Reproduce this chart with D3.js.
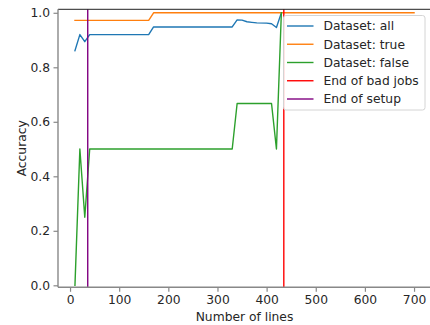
<!DOCTYPE html>
<html>
<head>
<meta charset="utf-8">
<script src="https://cdn.jsdelivr.net/npm/d3@7"></script>
<style>
  html, body { margin: 0; padding: 0; background: #fff; }
  svg { display: block; }
  text { font-family: "DejaVu Sans", sans-serif; fill: #262626; }
</style>
</head>
<body>
<svg id="chart" width="430" height="325"></svg>
<script>
// Accuracy per dataset as a function of the number of lines processed.
// Points are listed where the curve changes direction.
const allLines   = [10, 20, 30, 40, 160, 170, 330, 340, 350, 360, 370, 380, 400, 410, 420, 430];
const allAcc     = [0.861, 0.92, 0.894, 0.92, 0.92, 0.948, 0.948, 0.974, 0.973, 0.967, 0.965, 0.963, 0.962, 0.96, 0.946, 1.0];

const trueLines  = [10, 160, 170, 700];
const trueAcc    = [0.972, 0.972, 1.0, 1.0];

const falseLines = [10, 20, 30, 40, 330, 340, 410, 420, 430];
const falseAcc   = [0.0, 0.5, 0.25, 0.5, 0.5, 0.667, 0.667, 0.5, 1.0];

const endOfBadJobs = 435;
const endOfSetup   = 36;

const xTicks = [0, 100, 200, 300, 400, 500, 600, 700];
const yTicks = [0.0, 0.2, 0.4, 0.6, 0.8, 1.0];

const seriesNames  = ["Dataset: all", "Dataset: true", "Dataset: false"];
const markerNames  = ["End of bad jobs", "End of setup"];

const colors = {
  all: "#1f77b4", true: "#ff7f0e", false: "#2ca02c",
  bad: "#ff0000", setup: "#800080"
};

const svg = d3.select("#chart");
const plotLeft = 58, plotRight = 431, plotTop = 9.3, plotBottom = 287.3;

const x = d3.scaleLinear().domain([-24.5, 734.5]).range([plotLeft, plotRight]);
const y = d3.scaleLinear().domain([-0.0073, 1.0128]).range([plotBottom, plotTop]);

const fontSize = 12.3;

// Plot lines
const line = d3.line().x(d => x(d[0])).y(d => y(d[1]));
const plot = svg.append("g");

function drawSeries(xs, ys, color) {
  plot.append("path")
    .datum(xs.map((v, i) => [v, ys[i]]))
    .attr("d", line)
    .attr("fill", "none")
    .attr("stroke", color)
    .attr("stroke-width", 1.4)
    .attr("stroke-linejoin", "round")
    .attr("stroke-linecap", "square");
}
drawSeries(allLines, allAcc, colors.all);
drawSeries(trueLines, trueAcc, colors.true);
drawSeries(falseLines, falseAcc, colors.false);

function drawMarker(v, color) {
  plot.append("line")
    .attr("x1", x(v)).attr("x2", x(v))
    .attr("y1", plotTop).attr("y2", plotBottom)
    .attr("stroke", color)
    .attr("stroke-width", 1.4);
}
drawMarker(endOfBadJobs, colors.bad);
drawMarker(endOfSetup, colors.setup);

// Spines
svg.append("line").attr("x1", plotLeft).attr("x2", plotRight).attr("y1", plotTop).attr("y2", plotTop)
  .attr("stroke", "#222").attr("stroke-width", 1);
svg.append("line").attr("x1", plotLeft).attr("x2", plotLeft).attr("y1", plotTop).attr("y2", plotBottom)
  .attr("stroke", "#888").attr("stroke-width", 1.4);
svg.append("line").attr("x1", plotLeft).attr("x2", plotRight).attr("y1", plotBottom).attr("y2", plotBottom)
  .attr("stroke", "#888").attr("stroke-width", 1.4);

// Axes
const xAxis = d3.axisBottom(x).tickValues(xTicks).tickFormat(d3.format("d"))
  .tickSizeInner(4.5).tickSizeOuter(0).tickPadding(3);
const gx = svg.append("g").attr("transform", `translate(0,${plotBottom})`).call(xAxis);
gx.select(".domain").remove();
gx.selectAll(".tick line").attr("stroke", "#888").attr("stroke-width", 1.2);
gx.selectAll(".tick text").style("font-size", fontSize + "px").style("font-family", "DejaVu Sans").attr("fill", "#262626");

const yAxis = d3.axisLeft(y).tickValues(yTicks).tickFormat(d3.format(".1f"))
  .tickSizeInner(4.5).tickSizeOuter(0).tickPadding(3.5);
const gy = svg.append("g").attr("transform", `translate(${plotLeft},0)`).call(yAxis);
gy.select(".domain").remove();
gy.selectAll(".tick line").attr("stroke", "#888").attr("stroke-width", 1.2);
gy.selectAll(".tick text").style("font-size", fontSize + "px").style("font-family", "DejaVu Sans").attr("fill", "#262626");

// Axis titles
svg.append("text")
  .attr("x", (plotLeft + plotRight) / 2).attr("y", 321)
  .attr("text-anchor", "middle")
  .style("font-size", fontSize + "px")
  .text("Number of lines");

svg.append("text")
  .attr("transform", `translate(25.5,${(plotTop + plotBottom) / 2}) rotate(-90)`)
  .attr("text-anchor", "middle")
  .style("font-size", fontSize + "px")
  .text("Accuracy");

// Legend
const legend = svg.append("g");
legend.append("rect")
  .attr("x", 283.5).attr("y", 15.5).attr("width", 141.5).attr("height", 94.5)
  .attr("rx", 2.5)
  .attr("fill", "rgba(255,255,255,0.8)")
  .attr("stroke", "#d4d4d4").attr("stroke-width", 1);

const legendItems = [
  { name: seriesNames[0], color: colors.all },
  { name: seriesNames[1], color: colors.true },
  { name: seriesNames[2], color: colors.false },
  { name: markerNames[0], color: colors.bad },
  { name: markerNames[1], color: colors.setup }
];
legendItems.forEach((it, i) => {
  const cy = 26 + i * 18.25;
  legend.append("line")
    .attr("x1", 287).attr("x2", 313.5).attr("y1", cy).attr("y2", cy)
    .attr("stroke", it.color).attr("stroke-width", 1.4);
  legend.append("text")
    .attr("x", 323.5).attr("y", cy + 4.4)
    .style("font-size", fontSize + "px")
    .text(it.name);
});
</script>
</body>
</html>
